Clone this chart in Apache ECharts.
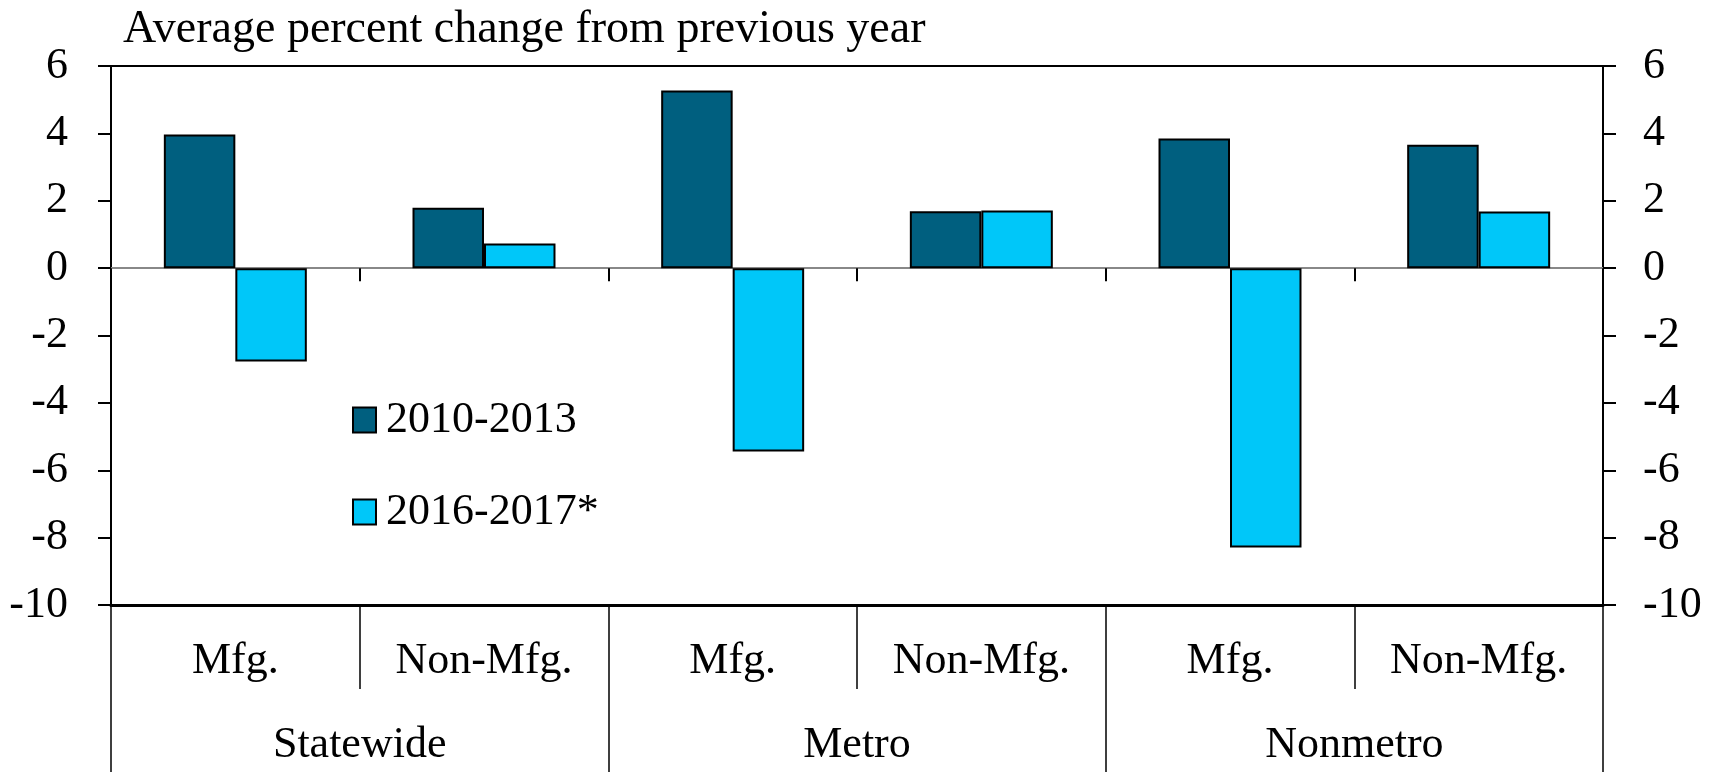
<!DOCTYPE html>
<html>
<head>
<meta charset="utf-8">
<script src="https://cdn.jsdelivr.net/npm/echarts@6/dist/echarts.min.js"></script>
<style>
  html, body { margin: 0; padding: 0; background: #fff; }
  #chart { width: 1721px; height: 772px; }
</style>
</head>
<body>
<div id="chart"></div>
<script>
// sub categories and their groups
const categories = ["Mfg.", "Non-Mfg.", "Mfg.", "Non-Mfg.", "Mfg.", "Non-Mfg."];
const groups = ["Statewide", "Metro", "Nonmetro"];
// average percent change from previous year
const period1 = [3.97, 1.79, 5.27, 1.69, 3.85, 3.66];   // 2010-2013
const period2 = [-2.77, 0.73, -5.44, 1.71, -8.29, 1.68]; // 2016-2017*

const font = "Liberation Serif";
const chart = echarts.init(document.getElementById("chart"));

const yAxisBase = {
  type: "value",
  min: -10,
  max: 6,
  interval: 2,
  splitLine: { show: false },
  axisLine: { show: true, lineStyle: { color: "#000", width: 2 } },
  axisTick: { show: true, length: 13, lineStyle: { color: "#000", width: 2 } },
  axisLabel: { color: "#000", fontFamily: font, fontSize: 44 }
};

const option = {
  animation: false,
  backgroundColor: "#fff",
  title: {
    text: "Average percent change from previous year",
    left: 118,
    top: 2,
    textStyle: { color: "#000", fontFamily: font, fontSize: 46, fontWeight: "normal" }
  },
  legend: {
    orient: "vertical",
    left: 347,
    top: 390,
    itemWidth: 23,
    itemHeight: 25,
    itemGap: 42,
    icon: "rect",
    itemStyle: { borderColor: "#000", borderWidth: 2 },
    textStyle: { color: "#000", fontFamily: font, fontSize: 44, lineHeight: 50, padding: [0, 0, 0, 5] },
    data: ["2010-2013", "2016-2017*"]
  },
  grid: {
    left: 111,
    right: 118,
    top: 66,
    bottom: 167,
    show: true,
    borderColor: "#000",
    borderWidth: 2
  },
  xAxis: [
    {
      // axis line through zero with small boundary ticks
      type: "category",
      data: categories,
      axisLine: { onZero: true, lineStyle: { color: "#888", width: 2 } },
      axisTick: { show: true, interval: 0, length: 13, lineStyle: { color: "#000", width: 2 } },
      axisLabel: { show: false }
    },
    {
      type: "category",
      data: categories,
      position: "bottom",
      axisLine: { onZero: false, lineStyle: { color: "#000", width: 3 } },
      axisTick: { show: true, interval: 0, length: 84, lineStyle: { color: "#000", width: 1.5 } },
      axisLabel: { interval: 0, margin: 34, color: "#000", fontFamily: font, fontSize: 44 }
    },
    {
      type: "category",
      data: groups,
      position: "bottom",
      axisLine: { show: false, onZero: false },
      axisTick: { show: true, interval: 0, length: 175, lineStyle: { color: "#000", width: 1.5 } },
      axisLabel: { interval: 0, margin: 118, color: "#000", fontFamily: font, fontSize: 44 }
    }
  ],
  yAxis: [
    Object.assign({}, yAxisBase, { position: "left", axisLabel: Object.assign({}, yAxisBase.axisLabel, { margin: 43 }) }),
    Object.assign({}, yAxisBase, { position: "right", axisLabel: Object.assign({}, yAxisBase.axisLabel, { margin: 40 }) })
  ],
  series: [
    {
      name: "2010-2013",
      type: "bar",
      data: period1,
      barGap: "0%",
      barCategoryGap: "42.5%",
      itemStyle: { color: "#005F7F", borderColor: "#000", borderWidth: 2 }
    },
    {
      name: "2016-2017*",
      type: "bar",
      data: period2,
      barGap: "0%",
      barCategoryGap: "42.5%",
      itemStyle: { color: "#00C7F9", borderColor: "#000", borderWidth: 2 }
    }
  ]
};

chart.setOption(option);
</script>
</body>
</html>
